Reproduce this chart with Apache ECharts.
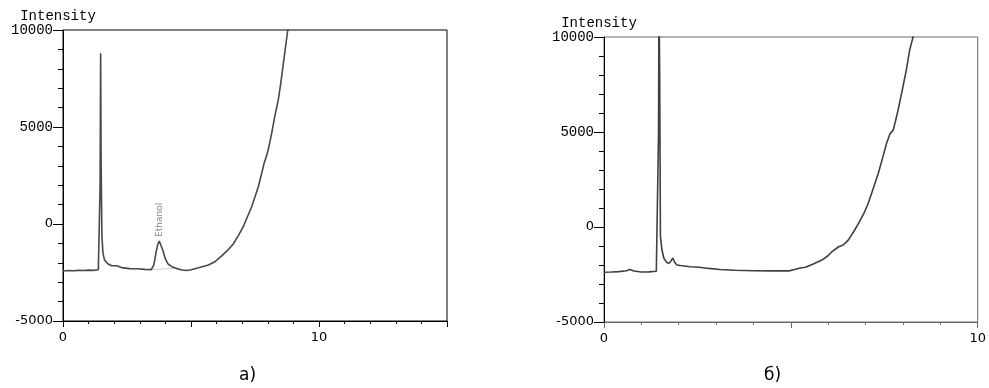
<!DOCTYPE html>
<html>
<head>
<meta charset="utf-8">
<script src="https://cdn.jsdelivr.net/npm/echarts@6/dist/echarts.min.js"></script>
<style>
  html, body { margin: 0; padding: 0; background: #fff; }
  #chart { width: 989px; height: 388px; }
</style>
</head>
<body>
<div id="chart"></div>
<script>
// panel a) : time (min) / intensity
const timeA = [0.0, 0.2, 0.4, 0.6, 0.8, 1.0, 1.2, 1.38, 1.42, 1.45, 1.47, 1.49, 1.52, 1.56, 1.62, 1.75, 1.9, 2.1, 2.3, 2.6, 2.9, 3.2, 3.45,
  3.55, 3.63, 3.7, 3.76, 3.82, 3.9, 4.0, 4.1, 4.25, 4.45, 4.65, 4.83, 5.0, 5.3, 5.68, 5.95, 6.2, 6.45, 6.65, 6.85, 7.04, 7.2, 7.37,
  7.5, 7.63, 7.75, 7.85, 7.95, 8.02, 8.15, 8.28, 8.41, 8.5, 8.59, 8.7, 8.78, 8.85];
const intensityA = [-2420, -2400, -2410, -2390, -2400, -2380, -2390, -2360, -2300, 2000, 8800, 3000, -600, -1500, -1850, -2050, -2150,
  -2150, -2250, -2300, -2310, -2340, -2350, -2100, -1500, -1050, -875, -950, -1350, -1800, -2050, -2200, -2300, -2370, -2400, -2360,
  -2260, -2110, -1930, -1640, -1330, -1030, -600, -140, 360, 890, 1400, 1920, 2550, 3100, 3500, 3850, 4670, 5600, 6400, 7200, 8090,
  9200, 10000, 10600];
const peakNames = ['Ethanol'];
const peakTimes = [3.76];
const peakValues = [-875];
const baseTimes = [3.48, 4.4];
const baseValues = [-2345, -2290];

// panel б)
const timeB = [0.0, 0.2, 0.4, 0.6, 0.69, 0.8, 1.0, 1.2, 1.4, 1.44, 1.46, 1.47, 1.49, 1.51, 1.55, 1.6, 1.67, 1.73, 1.79, 1.84, 1.89,
  1.95, 2.05, 2.3, 2.55, 2.8, 3.1, 3.5, 4.0, 4.5, 4.95, 5.1, 5.25, 5.39, 5.6, 5.83, 6.0, 6.1, 6.28, 6.4, 6.54, 6.68, 6.81, 6.95, 7.07,
  7.2, 7.34, 7.45, 7.56, 7.65, 7.74, 7.87, 8.0, 8.09, 8.18, 8.27, 8.32];
const intensityB = [-2380, -2370, -2350, -2300, -2240, -2320, -2370, -2360, -2330, -2300, 5000, 12500, 8000, -500, -1200, -1630,
  -1850, -1920, -1800, -1630, -1850, -2000, -2030, -2090, -2120, -2180, -2240, -2280, -2300, -2310, -2310, -2240, -2160, -2120, -1950,
  -1740, -1500, -1300, -1040, -950, -680, -250, 190, 700, 1250, 2000, 2830, 3600, 4400, 4900, 5100, 6160, 7390, 8270, 9320, 10000,
  10500];

const yTicks = { min: -5000, max: 10000, interval: 5000 };
const xLabelsA = [0, 10];
const xLabelsB = [0, 10];
const captions = ['а)', 'б)'];

const zip = (xs, ys) => xs.map((x, i) => [x, ys[i]]);

const chart = echarts.init(document.getElementById('chart'));

const yAxisBase = (gridIndex) => ({
  gridIndex,
  type: 'value',
  min: yTicks.min,
  max: yTicks.max,
  interval: yTicks.interval,
  name: 'Intensity',
  nameLocation: 'end',
  nameGap: 6,
  nameTextStyle: {
    fontFamily: 'Liberation Mono',
    fontSize: 14,
    color: '#000',
    align: 'center',
    verticalAlign: 'bottom',
    padding: [0, 10, 0, 0],
  },
  axisLine: { show: true, lineStyle: { color: '#000', width: 1 } },
  axisTick: { show: true, length: 10, lineStyle: { color: '#000' } },
  minorTick: { show: true, splitNumber: 5, length: 5, lineStyle: { color: '#000' } },
  splitLine: { show: false },
  axisLabel: {
    margin: 10,
    // upper labels are in a typewriter face, the lower ones in sans
    formatter: (v) => (v > 0 ? '{m|' + v + '}' : '{s|' + v + '}'),
    rich: {
      m: { fontFamily: 'Liberation Mono', fontSize: 14, color: '#000' },
      s: { fontFamily: 'DejaVu Sans', fontSize: 13, color: '#000' },
    },
  },
});

const xAxisBase = (gridIndex, max, labels, color) => ({
  gridIndex,
  type: 'value',
  min: 0,
  max,
  interval: 5,
  axisLine: { show: true, onZero: false, lineStyle: { color, width: 1 } },
  axisTick: { show: true, length: 6, lineStyle: { color } },
  minorTick: { show: true, splitNumber: 5, length: 3, lineStyle: { color } },
  splitLine: { show: false },
  axisLabel: {
    margin: 10,
    showMaxLabel: true,
    fontFamily: 'DejaVu Sans',
    fontSize: 13,
    color: '#000',
    formatter: (v) => (labels.includes(v) ? String(v) : ''),
  },
});

chart.setOption({
  animation: false,
  backgroundColor: '#fff',
  grid: [
    { left: 63, top: 30, width: 384, height: 291, show: true, borderColor: '#000', borderWidth: 1 },
    { left: 604, top: 37, width: 376, height: 285, show: true, borderColor: '#6a6a6a', borderWidth: 1 },
  ],
  xAxis: [
    xAxisBase(0, 15, xLabelsA, '#000'),
    xAxisBase(1, 10, xLabelsB, '#6a6a6a'),
  ],
  yAxis: [yAxisBase(0), yAxisBase(1)],
  series: [
    {
      name: 'baseline',
      type: 'line',
      xAxisIndex: 0,
      yAxisIndex: 0,
      symbol: 'none',
      lineStyle: { color: '#cfcfcf', width: 1 },
      data: zip(baseTimes, baseValues),
    },
    {
      name: 'a',
      type: 'line',
      xAxisIndex: 0,
      yAxisIndex: 0,
      symbol: 'none',
      lineStyle: { color: '#484848', width: 1.6 },
      data: zip(timeA, intensityA),
      markPoint: {
        symbol: 'circle',
        symbolSize: 0,
        data: peakNames.map((n, i) => ({ name: n, coord: [peakTimes[i], peakValues[i]] })),
        label: {
          show: true,
          formatter: (p) => p.name,
          position: 'top',
          distance: 4,
          rotate: 90,
          align: 'left',
          verticalAlign: 'middle',
          color: '#8a8a8a',
          fontFamily: 'DejaVu Sans',
          fontSize: 9,
        },
      },
    },
    {
      name: 'b',
      type: 'line',
      xAxisIndex: 1,
      yAxisIndex: 1,
      symbol: 'none',
      lineStyle: { color: '#404040', width: 1.6 },
      data: zip(timeB, intensityB),
    },
  ],
  graphic: [
    { type: 'text', left: 239, top: 367, style: { text: captions[0], font: '17px "DejaVu Sans"', fill: '#000' } },
    { type: 'text', left: 764, top: 367, style: { text: captions[1], font: '17px "DejaVu Sans"', fill: '#000' } },
  ],
});
</script>
</body>
</html>
